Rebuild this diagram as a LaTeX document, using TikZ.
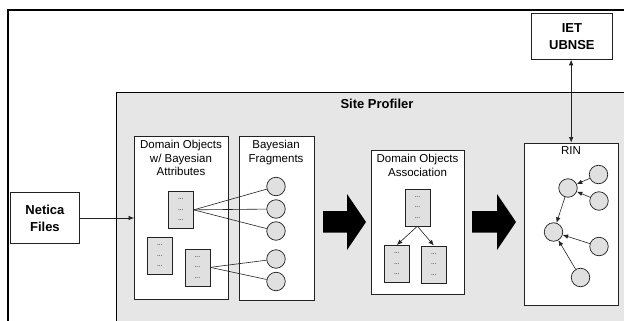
\documentclass[tikz,border=0pt]{standalone}
\usepackage{fontspec}
\setmainfont{Liberation Sans}
\usetikzlibrary{arrows.meta}

\definecolor{panelgray}{HTML}{E6E6E6}
\definecolor{itemgray}{HTML}{E0E0E0}
\definecolor{edgegray}{HTML}{222222}

\tikzset{
  frame/.style={draw=black, line width=2pt},
  panel/.style={draw=edgegray, line width=0.8pt, fill=white, inner sep=0pt, anchor=north west},
  caption/.style={font=\fontsize{11.5}{13.5}\selectfont, align=center, anchor=north, inner sep=0pt},
  boldlabel/.style={font=\fontsize{13}{17}\selectfont\bfseries, align=center, inner sep=0pt},
  record/.style={draw=edgegray, line width=0.7pt, fill=itemgray, minimum width=25pt,
    minimum height=37pt, inner sep=0pt, anchor=north west,
    font=\fontsize{6.5}{10.5}\selectfont, align=center},
  bnode/.style={circle, draw=edgegray, line width=0.7pt, fill=itemgray, minimum size=18.5pt, inner sep=0pt},
  link/.style={draw=edgegray, line width=0.6pt},
  arrowlink/.style={link, -{Latex[length=5.5pt,width=4.5pt]}},
  bothlink/.style={link, {Latex[length=5.5pt,width=4.5pt]}-{Latex[length=5.5pt,width=4.5pt]}},
  bigarrow/.style={fill=black}
}

\begin{document}
\begin{tikzpicture}[x=1pt,y=-1pt]
  \useasboundingbox (0,0) rectangle (624,321);

  % Site Profiler panel (runs past the right and bottom edges)
  \path[fill=panelgray, draw=black, line width=0.9pt] (116,92) rectangle (640,340);
  \node[boldlabel] (sitetitle) at (377,104) {Site Profiler};

  % outer system frame (top and left sides only)
  \draw[frame] (8,340) -- (8,10) -- (640,10);

  % external sources
  \node[panel, minimum width=69pt, minimum height=51pt] (netica) at (10,192) {};
  \node[boldlabel] (neticatext) at (netica.center) {Netica\\Files};

  \node[panel, minimum width=81pt, minimum height=46pt] (iet) at (531,13) {};
  \node[boldlabel] (iettext) at (iet.center) {IET\\UBNSE};

  % domain objects with Bayesian attributes
  \node[panel, minimum width=94pt, minimum height=163pt] (domobj) at (134,136) {};
  \node[caption] (domobjtext) at (181,140) {Domain Objects\\w/ Bayesian\\Attributes};
  \node[record] (recA) at (168,191) {...\\...\\...};
  \node[record] (recB) at (147,237) {...\\...\\...};
  \node[record] (recC) at (184.5,248.5) {...\\...\\...};

  % Bayesian fragments
  \node[panel, minimum width=75pt, minimum height=164pt] (frag) at (238.5,136) {};
  \node[caption] (fragtext) at (276,140) {Bayesian\\Fragments};
  \node[bnode] (f1) at (276,186.5) {};
  \node[bnode] (f2) at (276,209) {};
  \node[bnode] (f3) at (276,231) {};
  \node[bnode] (f4) at (276,259) {};
  \node[bnode] (f5) at (276,281.5) {};

  \draw[link] (recA.east) -- (f1);
  \draw[link] (recA.east) -- (f2);
  \draw[link] (recA.east) -- (f3);
  \draw[link] (recC.east) -- (f4);
  \draw[link] (recC.east) -- (f5);

  % Netica input
  \draw[arrowlink] (netica.east |- 0,218) -- (domobj.west |- 0,218);

  % first processing step
  \fill[bigarrow] (323,211) -- (347,211) -- (347,194) -- (366,222)
                  -- (347,250) -- (347,232.5) -- (323,232.5) -- cycle;

  % domain objects association
  \node[panel, minimum width=93pt, minimum height=144pt] (assoc) at (371,150) {};
  \node[caption] (assoctext) at (417.5,154) {Domain Objects\\Association};
  \node[record] (recT) at (404.5,188.5) {...\\...\\...};
  \node[record] (recL) at (384,245) {...\\...\\...};
  \node[record] (recR) at (421,245.5) {...\\...\\...};
  \draw[arrowlink] (recT.south) -- (recL.north);
  \draw[arrowlink] (recT.south) -- (recR.north);

  % second processing step
  \fill[bigarrow] (472,211) -- (497,211) -- (497,194) -- (516,222)
                  -- (497,250) -- (497,232.5) -- (472,232.5) -- cycle;

  % RIN network
  \node[panel, minimum width=94.5pt, minimum height=162.5pt] (rin) at (523.5,142.5) {};
  \node[caption] (rintext) at (571,146.5) {RIN};
  \node[bnode] (r1) at (568,188) {};
  \node[bnode] (r2) at (598.5,174.5) {};
  \node[bnode] (r3) at (599,201) {};
  \node[bnode] (r4) at (553.5,232) {};
  \node[bnode] (r5) at (599,246.5) {};
  \node[bnode] (r6) at (580.5,277.5) {};
  \draw[arrowlink] (r2) -- (r1);
  \draw[arrowlink] (r3) -- (r1);
  \draw[arrowlink] (r1) -- (r4);
  \draw[arrowlink] (r5) -- (r4);
  \draw[arrowlink] (r6) -- (r4);

  % exchange with IET UBNSE
  \draw[bothlink] (iet.south -| rin.north) -- (rin.north);
\end{tikzpicture}
\end{document}
